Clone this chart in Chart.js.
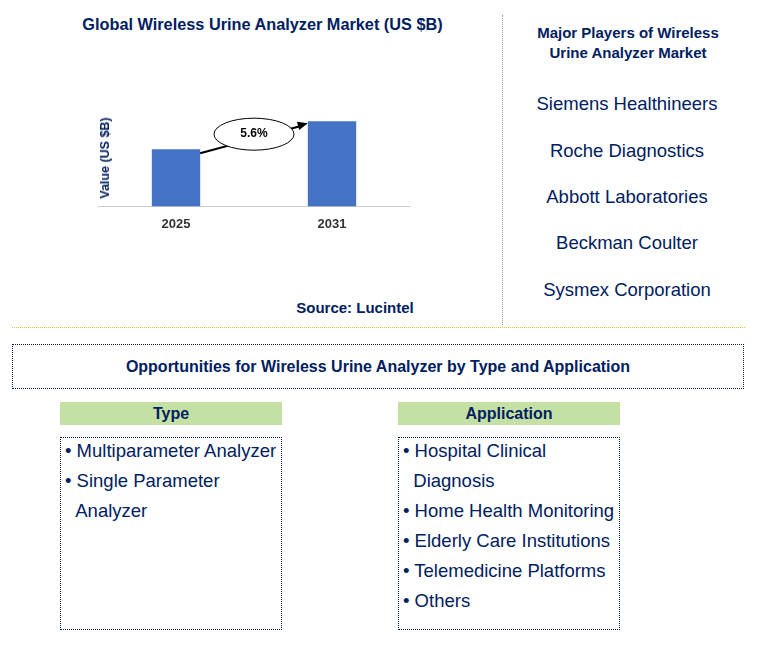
<!DOCTYPE html>
<html><head><meta charset="utf-8">
<script src="https://cdn.jsdelivr.net/npm/chart.js@4"></script>
<style>
body{margin:0;width:759px;height:651px;background:#fff;font-family:"Liberation Sans",Arial,sans-serif;color:#002060;position:relative;overflow:hidden}
.a{position:absolute}
.t{font-weight:bold;font-size:15px;text-align:center}
.pl{font-size:18.5px;text-align:center;width:250px;left:502px;color:#002060}
.box{border:1px dotted #002060;box-sizing:border-box}
.hdr{background:#c5e0a5;font-weight:bold;font-size:16px;text-align:center;line-height:23px}
.list{font-size:18.5px;line-height:30px;padding:0 4px;margin-top:-2px;color:#002060;white-space:nowrap}
</style></head><body>
<div class="a t" style="left:40px;top:15px;width:445px;font-size:16.3px">Global Wireless Urine Analyzer Market (US $B)</div>
<div class="a" style="left:98px;top:92px;width:312px;height:150px"><canvas id="c" width="312" height="150"></canvas></div>
<div class="a" style="left:105px;top:158px;transform:translate(-50%,-50%) rotate(-90deg);font-weight:bold;font-size:12.5px;white-space:nowrap">Value (US $B)</div>
<div class="a t" style="left:270px;top:299px;width:170px">Source: Lucintel</div>
<div class="a" style="left:502px;top:15px;height:310px;border-left:1px dotted #999"></div>
<div class="a t" style="left:502px;top:23px;width:252px;line-height:20px">Major Players of Wireless<br>Urine Analyzer Market</div>
<div class="a pl" style="top:93px">Siemens Healthineers</div>
<div class="a pl" style="top:140px">Roche Diagnostics</div>
<div class="a pl" style="top:186px">Abbott Laboratories</div>
<div class="a pl" style="top:232px">Beckman Coulter</div>
<div class="a pl" style="top:279px">Sysmex Corporation</div>
<div class="a" style="left:12px;top:327px;width:733px;border-top:1px dotted #e8c040"></div>
<div class="a box t" style="left:12px;top:344px;width:732px;height:45px;line-height:43px;font-size:16px">Opportunities for Wireless Urine Analyzer by Type and Application</div>
<div class="a hdr" style="left:60px;top:402px;width:222px">Type</div>
<div class="a box" style="left:60px;top:437px;width:222px;height:193px"><div class="list">• Multiparameter Analyzer<br>• Single Parameter<br>&nbsp;&nbsp;Analyzer</div></div>
<div class="a hdr" style="left:398px;top:402px;width:222px">Application</div>
<div class="a box" style="left:398px;top:437px;width:222px;height:193px"><div class="list">• Hospital Clinical<br>&nbsp;&nbsp;Diagnosis<br>• Home Health Monitoring<br>• Elderly Care Institutions<br>• Telemedicine Platforms<br>• Others</div></div>
<script>
const categories = ["2025", "2031"];
const values = [2.0, 2.98];
const cagrLabel = "5.6%";
const ann = {
  id: 'ann',
  afterDatasetsDraw(ch) {
    const m = ch.getDatasetMeta(0).data, ctx = ch.ctx;
    const x1 = m[0].x + m[0].width / 2, y1 = m[0].y + 4, x2 = m[1].x - m[1].width / 2, y2 = m[1].y + 2;
    ctx.save();
    ctx.strokeStyle = '#000'; ctx.lineWidth = 2;
    ctx.beginPath(); ctx.moveTo(x1, y1); ctx.lineTo(x2 - 8, y2 + 3); ctx.stroke();
    const ang = Math.atan2(y2 - y1, x2 - x1);
    ctx.beginPath(); ctx.moveTo(x2, y2);
    ctx.lineTo(x2 - 11 * Math.cos(ang - 0.4), y2 - 11 * Math.sin(ang - 0.4));
    ctx.lineTo(x2 - 11 * Math.cos(ang + 0.4), y2 - 11 * Math.sin(ang + 0.4));
    ctx.closePath(); ctx.fillStyle = '#000'; ctx.fill();
    const cx = (x1 + x2) / 2, cy = (y1 + y2) / 2 - 4;
    ctx.beginPath(); ctx.ellipse(cx, cy, 40, 16, 0, 0, Math.PI * 2);
    ctx.fillStyle = '#fff'; ctx.fill(); ctx.lineWidth = 1; ctx.stroke();
    ctx.fillStyle = '#000'; ctx.font = 'bold 12px "Liberation Sans"';
    ctx.textAlign = 'center'; ctx.textBaseline = 'middle';
    ctx.fillText(cagrLabel, cx, cy);
    ctx.restore();
  }
};
new Chart(document.getElementById('c'), {
  type: 'bar',
  data: { labels: categories, datasets: [{ data: values, backgroundColor: '#4472c4', barPercentage: 0.31, categoryPercentage: 1 }] },
  options: {
    responsive: false, animation: false,
    layout: { padding: 0 },
    plugins: { legend: { display: false }, tooltip: { enabled: false } },
    scales: {
      x: { grid: { display: false, drawTicks: false }, border: { color: '#ccc' },
           ticks: { color: '#333', font: { weight: 'bold', size: 13, family: 'Liberation Sans' }, padding: 10 } },
      y: { display: false, min: 0, max: 4.0 }
    }
  },
  plugins: [ann]
});
</script>
</body></html>
